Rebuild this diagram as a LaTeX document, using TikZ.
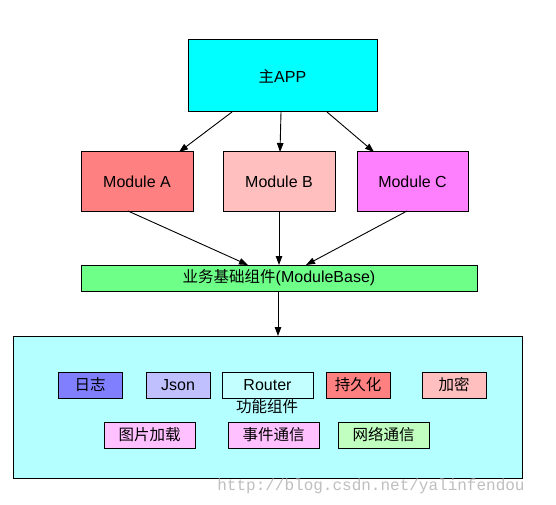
\documentclass[tikz,border=0pt]{standalone}
\usepackage{fontspec}
\setmainfont{Liberation Sans}
\newfontfamily\cjkraw{Noto Sans CJK SC}
\newcommand{\cjk}{\fontsize{15.5}{18}\cjkraw}
\newfontfamily\wmfont{Liberation Mono}
\usetikzlibrary{arrows.meta,calc}
\definecolor{appcyan}{RGB}{0,255,255}
\definecolor{modA}{RGB}{255,128,128}
\definecolor{modB}{RGB}{255,191,191}
\definecolor{modC}{RGB}{255,128,255}
\definecolor{basegreen}{RGB}{110,255,136}
\definecolor{bigbg}{RGB}{180,255,255}
\definecolor{logblue}{RGB}{128,128,255}
\definecolor{jsonblue}{RGB}{192,192,255}
\definecolor{routercyan}{RGB}{196,255,255}
\definecolor{pinkfill}{RGB}{255,192,255}
\definecolor{greenfill}{RGB}{192,255,192}
\tikzset{
  box/.style={draw=black, line width=1pt, inner sep=0pt, outer sep=0pt,
    font=\fontsize{16}{18}\selectfont},
  conn/.style={draw=black, line width=0.9pt, -{Triangle[length=9pt,width=6.5pt]}}
}
\begin{document}
\begin{tikzpicture}[x=1pt,y=-1pt]
\useasboundingbox[fill=white] (0,0) rectangle (556,505);
\node[box, fill=appcyan, minimum width=189pt, minimum height=72pt] (app) at (282.5,76) {{\cjk 主}APP};
\node[box, fill=modA, minimum width=112pt, minimum height=59pt] (ma) at (137,181.5) {Module A};
\node[box, fill=modB, minimum width=112pt, minimum height=59pt] (mb) at (279,181.5) {Module B};
\node[box, fill=modC, minimum width=111pt, minimum height=59pt] (mc) at (412.5,181.5) {Module C};
\node[box, fill=basegreen, minimum width=396pt, minimum height=26pt] (base) at (279,278) {{\cjk 业务基础组件}(ModuleBase)};
\node[box, fill=bigbg, minimum width=509pt, minimum height=142pt] (big) at (267.5,407) {};
\node[box, fill=logblue, minimum width=64pt, minimum height=26pt] (log) at (90,385) {\cjk 日志};
\node[box, fill=jsonblue, minimum width=64pt, minimum height=26pt] (json) at (178,385) {Json};
\node[box, fill=routercyan, minimum width=91pt, minimum height=26pt] (router) at (267.5,385) {Router};
\node[box, fill=modA, minimum width=64pt, minimum height=26pt] (persist) at (358,385) {\cjk 持久化};
\node[box, fill=modB, minimum width=64pt, minimum height=26pt] (enc) at (454,385) {\cjk 加密};
\node[font=\cjk, inner sep=0pt] (flabel) at (267,407) {功能组件};
\node[box, fill=pinkfill, minimum width=91pt, minimum height=26pt] (img) at (149.5,435) {\cjk 图片加载};
\node[box, fill=pinkfill, minimum width=91pt, minimum height=26pt] (event) at (273.5,435) {\cjk 事件通信};
\node[box, fill=greenfill, minimum width=91pt, minimum height=26pt] (net) at (383.5,435) {\cjk 网络通信};
\node[font=\fontsize{16}{18}\selectfont\wmfont, text=black!25, inner sep=0pt] (wm) at (371,486) {http://blog.csdn.net/yalinfendou};
\draw[conn] ($(app.south)+(-50.5,0)$) -- ($(ma.north)+(42,0)$);
\draw[conn] ($(app.south)+(-1.5,0)$) -- ($(mb.north)+(1,0)$);
\draw[conn] ($(app.south)+(44.5,0)$) -- ($(mc.north)+(-38.5,0)$);
\draw[conn] ($(ma.south)+(-9,0)$) -- ($(base.north)+(-31,0)$);
\draw[conn] (mb.south) -- (base.north);
\draw[conn] ($(mc.south)+(-5.5,0)$) -- ($(base.north)+(27,0)$);
\draw[conn] ($(base.south)+(-1,0)$) -- ($(big.north)+(10.5,0)$);
\end{tikzpicture}
\end{document}
